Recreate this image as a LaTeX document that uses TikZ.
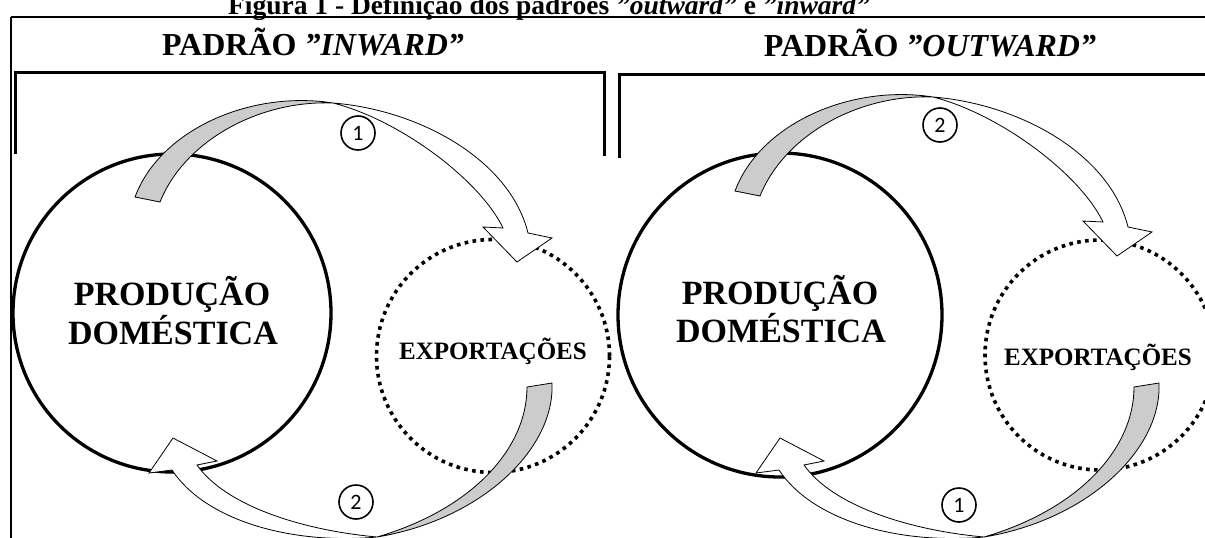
\documentclass[tikz,border=0pt]{standalone}
\usepackage{fontspec}
\setmainfont{Liberation Serif}
\newfontfamily\numfont{Carlito}
\begin{document}
\begin{tikzpicture}[x=1pt,y=-1pt,
  frameline/.style={line width=2.6pt},
  bracketline/.style={line width=3pt},
  bigcirc/.style={draw,circle,line width=3.3pt,inner sep=0pt,minimum size=#1},
  dotcirc/.style={draw,circle,line width=3.6pt,dash pattern=on 3.6pt off 4.4pt,inner sep=0pt,minimum size=#1},
  grayband/.style={fill=black!20,draw=black,line width=0.8pt,line join=miter},
  whiteband/.style={fill=white,draw=black,line width=0.8pt,line join=miter},
  numcirc/.style={draw,circle,line width=1.6pt,inner sep=0pt,minimum size=34pt,font=\numfont\fontsize{22}{22}\selectfont},
  headtxt/.style={anchor=base,font=\bfseries\fontsize{32}{32}\selectfont},
  bigtxt/.style={anchor=base,font=\bfseries\fontsize{34}{34}\selectfont},
  exptxt/.style={anchor=base,font=\bfseries\fontsize{25}{25}\selectfont},
  captxt/.style={anchor=base,font=\bfseries\fontsize{27.5}{27.5}\selectfont}
]
\useasboundingbox (0,0) rectangle (1205,538);
\clip (0,0) rectangle (1205,538);

% caption (cut at top)
\node[captxt] (caption) at (549,14) {Figura 1 - Definição dos padrões \textit{”outward”} e \textit{”inward”}};

% outer frame
\draw[frameline] (11,17) -- (1210,17);
\draw[line width=1.8pt] (11,17) -- (11,545);

% brackets
\draw[bracketline] (15,154) -- (15,72) -- (604,72) -- (604,156);
\draw[bracketline] (619,158) -- (619,74) -- (1210,74);

% headings
\node[headtxt] (hin) at (313,55) {PADRÃO \textit{”INWARD”}};
\node[headtxt] (hout) at (930,56) {PADRÃO \textit{”OUTWARD”}};

% circles
\node[bigcirc=318pt] (prodL) at (172,313) {};
\node[dotcirc=233pt] (expL) at (493,356) {};
\node[bigcirc=324pt] (prodR) at (780,315) {};
\node[dotcirc=230pt] (expR) at (1100,355) {};

% texts in circles
\node[bigtxt] (pL1) at (172,305) {PRODUÇÃO};
\node[bigtxt] (pL2) at (173,344) {DOMÉSTICA};
\node[exptxt] (eL) at (493,359) {EXPORTAÇÕES};
\node[bigtxt] (pR1) at (780,304) {PRODUÇÃO};
\node[bigtxt] (pR2) at (781,342) {DOMÉSTICA};
\node[exptxt] (eR) at (1098,365) {EXPORTAÇÕES};

% left panel arrows
\begin{scope}
  \coordinate (tM) at (333,103);
  \draw[whiteband] (tM) .. controls (420,110) and (510,160) .. (528,233) -- (552,238) -- (517,262) -- (483,227) -- (503,228) .. controls (480,180) and (400,120) .. (tM) -- cycle;
  \draw[grayband] (135,197) .. controls (160,130) and (250,90) .. (tM) .. controls (260,100) and (185,140) .. (160,202) -- cycle;
  \coordinate (bN) at (377,537);
  \draw[whiteband] (bN) .. controls (290,545) and (205,520) .. (172,470) -- (149,473) -- (173,438) -- (217,461) -- (197,465) .. controls (225,505) and (300,530) .. (bN) -- cycle;
  \draw[grayband] (527,387) -- (552,383) .. controls (555,450) and (480,520) .. (bN) .. controls (470,510) and (527,450) .. (527,387) -- cycle;
\end{scope}

% right panel arrows
\begin{scope}[shift={(600,-6)}]
  \coordinate (tM2) at (333,103);
  \draw[whiteband] (tM2) .. controls (420,110) and (510,160) .. (528,233) -- (552,238) -- (517,262) -- (483,227) -- (503,228) .. controls (480,180) and (400,120) .. (tM2) -- cycle;
  \draw[grayband] (135,197) .. controls (160,130) and (250,90) .. (tM2) .. controls (260,100) and (185,140) .. (160,202) -- cycle;
\end{scope}
\begin{scope}[shift={(607,0)}]
  \coordinate (bN2) at (377,537);
  \draw[whiteband] (bN2) .. controls (290,545) and (205,520) .. (172,470) -- (149,473) -- (173,438) -- (217,461) -- (197,465) .. controls (225,505) and (300,530) .. (bN2) -- cycle;
  \draw[grayband] (527,387) -- (552,383) .. controls (555,450) and (480,520) .. (bN2) .. controls (470,510) and (527,450) .. (527,387) -- cycle;
\end{scope}

% numbers
\node[numcirc] (nL1) at (358,133) {1};
\node[numcirc] (nL2) at (356,502) {2};
\node[numcirc] (nR2) at (940,125) {2};
\node[numcirc] (nR1) at (959,505) {1};
\end{tikzpicture}
\end{document}
